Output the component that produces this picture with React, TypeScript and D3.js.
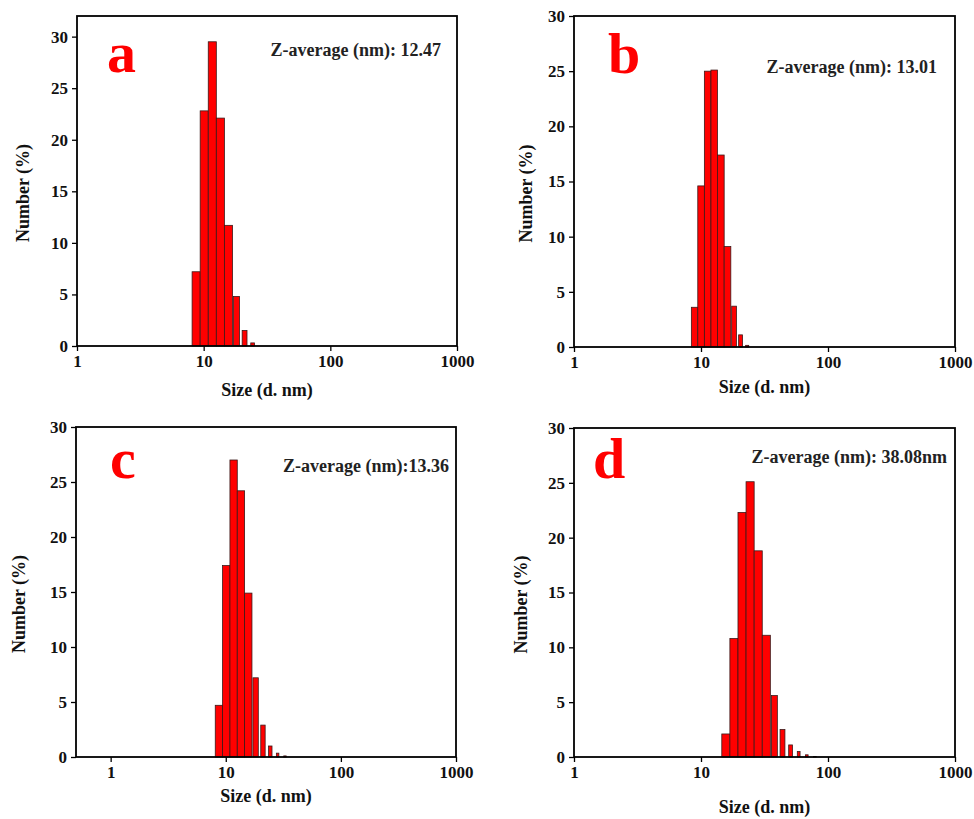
import React, { useEffect, useRef } from 'react';
import * as d3 from 'd3';

// size classes (d. nm) and number distribution (%)
const sizesA = [8.721, 10.1, 11.7, 13.54, 15.69, 18.17, 21.04, 24.36];
const numberA = [7.2, 22.8, 29.5, 22.1, 11.7, 4.8, 1.5, 0.3];
const sizesB = [8.9, 10.0, 11.3, 12.7, 14.3, 16.2, 18.2, 20.5, 23.1];
const numberB = [3.6, 14.6, 25.0, 25.1, 17.4, 9.1, 3.7, 1.1, 0.15];
const sizesC = [8.721, 10.1, 11.7, 13.54, 15.69, 18.17, 21.04, 24.36, 28.21, 32.67];
const numberC = [4.7, 17.4, 27.0, 24.2, 14.9, 7.2, 2.9, 1.0, 0.35, 0.1];
const sizesD = [15.69, 18.17, 21.04, 24.36, 28.21, 32.67, 37.84, 43.82, 50.75, 58.77, 68.06, 78.82];
const numberD = [2.1, 10.8, 22.3, 25.1, 18.8, 11.1, 5.6, 2.5, 1.1, 0.5, 0.2, 0.05];

const letters = ['a', 'b', 'c', 'd'];
const zAverages = [
    'Z-average (nm): 12.47',
    'Z-average (nm): 13.01',
    'Z-average (nm):13.36',
    'Z-average (nm): 38.08nm',
];
const yTicks = [0, 5, 10, 15, 20, 25, 30];
const xTicks = [1, 10, 100, 1000];
const xTitle = 'Size (d. nm)';
const yTitle = 'Number (%)';

const FONT = '"Liberation Serif", "Times New Roman", serif';

// frame geometry of the four panels
const panels = [
    { sizes: sizesA, values: numberA, left: 77, right: 457, top: 16, bottom: 346, xMin: 1, yMax: 32,
      letter: [107, 72], z: [441, 56], xTitleDy: 50, yTitleX: 23 },
    { sizes: sizesB, values: numberB, left: 574, right: 955, top: 16, bottom: 347, xMin: 1, yMax: 30,
      letter: [608, 73], z: [937, 73], xTitleDy: 46, yTitleX: 526 },
    { sizes: sizesC, values: numberC, left: 76, right: 456, top: 427, bottom: 757, xMin: 0.5, yMax: 30,
      letter: [110, 478], z: [449, 472], xTitleDy: 45, yTitleX: 19 },
    { sizes: sizesD, values: numberD, left: 574, right: 955, top: 428, bottom: 757, xMin: 1, yMax: 30,
      letter: [593, 478], z: [947, 463], xTitleDy: 56, yTitleX: 521 },
];

function drawPanel(node, p, i) {
    const g = d3.select(node);
    g.selectAll('*').remove();

    const x = d3.scaleLog().domain([p.xMin, 1000]).range([p.left, p.right]);
    const y = d3.scaleLinear().domain([0, p.yMax]).range([p.bottom, p.top]);

    // bars: log-spaced bins, narrowing in the right tail like the original
    const logs = p.sizes.map(Math.log10);
    const peak = d3.maxIndex(p.values);
    const bars = p.sizes.map((s, j) => {
        const prev = j > 0 ? logs[j] - logs[j - 1] : logs[j + 1] - logs[j];
        const next = j < logs.length - 1 ? logs[j + 1] - logs[j] : prev;
        const k = j - peak;
        const frac = k <= 2 ? 1 : Math.max(0.33, 1.12 - 0.13 * k);
        return {
            x0: Math.pow(10, logs[j] - (prev / 2) * frac),
            x1: Math.pow(10, logs[j] + (next / 2) * frac),
            v: p.values[j],
        };
    });

    g.append('g')
        .selectAll('rect')
        .data(bars)
        .join('rect')
        .attr('x', d => x(d.x0))
        .attr('width', d => x(d.x1) - x(d.x0))
        .attr('y', d => y(d.v))
        .attr('height', d => y(0) - y(d.v))
        .attr('fill', '#ff0000')
        .attr('stroke', '#3a1a1a')
        .attr('stroke-width', 0.8);

    // minor ticks
    const minorX = [];
    for (let dec = 0.1; dec < 1000; dec *= 10) {
        for (let m = 2; m <= 9; m++) {
            const v = +(dec * m).toPrecision(3);
            if (v >= p.xMin && v < 1000 && !xTicks.includes(v)) minorX.push(v);
        }
    }
    const minorY = d3.range(2.5, p.yMax, 5);

    const xAxis = g.append('g').attr('transform', `translate(0,${p.bottom})`);
    xAxis.call(d3.axisBottom(x).tickValues(minorX).tickFormat(() => '').tickSize(3).tickSizeOuter(0));
    xAxis.call(d3.axisBottom(x).tickValues(xTicks).tickFormat(d3.format('d')).tickSize(5).tickPadding(4).tickSizeOuter(0));

    const yAxis = g.append('g').attr('transform', `translate(${p.left},0)`);
    yAxis.call(d3.axisLeft(y).tickValues(minorY).tickFormat(() => '').tickSize(3).tickSizeOuter(0));
    yAxis.call(d3.axisLeft(y).tickValues(yTicks).tickFormat(d3.format('d')).tickSize(5).tickPadding(4).tickSizeOuter(0));

    g.selectAll('.domain').remove();
    g.selectAll('.tick line').attr('stroke', '#000').attr('stroke-width', 1.3);
    g.selectAll('.tick text')
        .attr('font-family', FONT)
        .attr('font-weight', 'bold')
        .attr('font-size', 17)
        .attr('fill', '#111');

    g.append('rect')
        .attr('x', p.left)
        .attr('y', p.top)
        .attr('width', p.right - p.left)
        .attr('height', p.bottom - p.top)
        .attr('fill', 'none')
        .attr('stroke', '#000')
        .attr('stroke-width', 1.8);

    g.append('text')
        .attr('x', (p.left + p.right) / 2)
        .attr('y', p.bottom + p.xTitleDy)
        .attr('text-anchor', 'middle')
        .attr('font-family', FONT)
        .attr('font-weight', 'bold')
        .attr('font-size', 18)
        .attr('fill', '#111')
        .text(xTitle);

    const cy = (p.top + p.bottom) / 2 + 12;
    g.append('text')
        .attr('transform', `translate(${p.yTitleX},${cy}) rotate(-90)`)
        .attr('text-anchor', 'middle')
        .attr('dy', '0.35em')
        .attr('font-family', FONT)
        .attr('font-weight', 'bold')
        .attr('font-size', 18)
        .attr('fill', '#111')
        .text(yTitle);

    g.append('text')
        .attr('x', p.letter[0])
        .attr('y', p.letter[1])
        .attr('font-family', FONT)
        .attr('font-weight', 'bold')
        .attr('font-size', 58)
        .attr('fill', '#ff0000')
        .text(letters[i]);

    g.append('text')
        .attr('x', p.z[0])
        .attr('y', p.z[1])
        .attr('text-anchor', 'end')
        .attr('font-family', FONT)
        .attr('font-weight', 'bold')
        .attr('font-size', 18)
        .attr('fill', '#222')
        .text(zAverages[i]);
}

export default function App() {
    const refs = useRef([]);

    useEffect(() => {
        panels.forEach((p, i) => drawPanel(refs.current[i], p, i));
    }, []);

    return (
        <svg width="974" height="819" style={{ position: 'absolute', left: 0, top: 0, background: '#fff' }}>
            {panels.map((p, i) => (
                <g key={i} ref={el => { refs.current[i] = el; }} />
            ))}
        </svg>
    );
}
